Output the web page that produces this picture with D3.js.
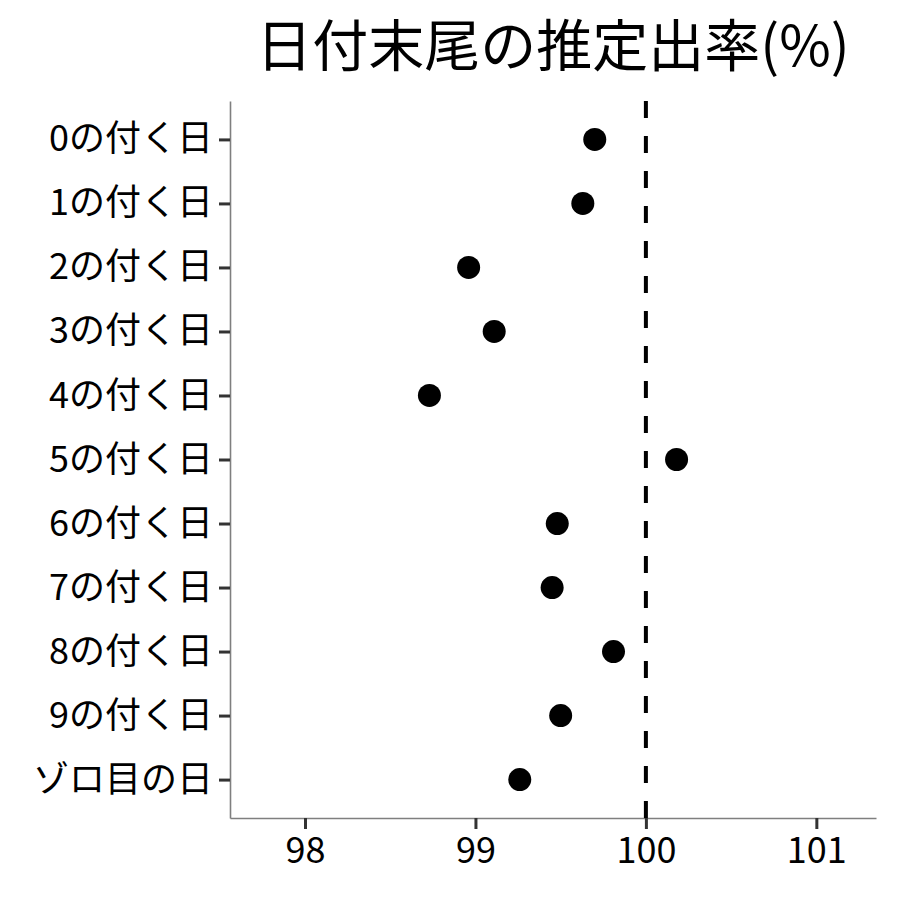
<!DOCTYPE html>
<html>
<head>
<meta charset="utf-8">
<script src="https://cdn.jsdelivr.net/npm/d3@7"></script>
<style>
  body { margin: 0; background: #fff; }
  text { font-family: "Noto Sans CJK JP", "Noto Sans", sans-serif; }
</style>
</head>
<body>
<div id="chart"></div>
<script>
// data
var categories = ["0の付く日", "1の付く日", "2の付く日", "3の付く日", "4の付く日",
                  "5の付く日", "6の付く日", "7の付く日", "8の付く日", "9の付く日", "ゾロ目の日"];
var rates = [99.70, 99.63, 98.96, 99.11, 98.73, 100.18, 99.48, 99.45, 99.81, 99.50, 99.26];
var xTicks = [98, 99, 100, 101];
var refValue = 100;
var titleText = "日付末尾の推定出率(%)";

var WIDTH = 900,
    HEIGHT = 900,
    MARGINS = {top: 101, bottom: 82, left: 230, right: 24};

var svg = d3.select("#chart").append("svg")
  .attr("width", WIDTH)
  .attr("height", HEIGHT);

// scales
var xScale = d3.scaleLinear()
  .domain([97.56, 101.35])
  .range([MARGINS.left, WIDTH - MARGINS.right]);

var yScale = d3.scalePoint()
  .domain(categories)
  .range([MARGINS.top, HEIGHT - MARGINS.bottom])
  .padding(0.6);

// title
svg.append("text")
  .attr("x", 553)
  .attr("y", 66)
  .attr("text-anchor", "middle")
  .style("font-size", "56px")
  .style("fill", "#000")
  .text(titleText);

// x axis
var xAxis = svg.append("g")
  .attr("transform", "translate(0," + (HEIGHT - MARGINS.bottom) + ")")
  .call(d3.axisBottom(xScale).tickValues(xTicks).tickFormat(d3.format("d"))
    .tickSize(11).tickPadding(8).tickSizeOuter(0));
xAxis.select(".domain").attr("stroke", "#7f7f7f").attr("stroke-width", 1.6);
xAxis.selectAll(".tick line").attr("stroke", "#333").attr("stroke-width", 3);
xAxis.selectAll(".tick text").style("font-size", "36px").attr("fill", "#000");

// y axis
var yAxis = svg.append("g")
  .attr("transform", "translate(" + MARGINS.left + ",0)")
  .call(d3.axisLeft(yScale).tickSize(11).tickPadding(6).tickSizeOuter(0));
yAxis.select(".domain").attr("stroke", "#7f7f7f").attr("stroke-width", 1.6);
yAxis.selectAll(".tick line").attr("stroke", "#333").attr("stroke-width", 3);
yAxis.selectAll(".tick text").style("font-size", "36px").attr("fill", "#000");

// reference line at 100
svg.append("line")
  .attr("x1", xScale(refValue))
  .attr("x2", xScale(refValue))
  .attr("y1", MARGINS.top)
  .attr("y2", HEIGHT - MARGINS.bottom)
  .attr("stroke", "#000")
  .attr("stroke-width", 4)
  .attr("stroke-dasharray", "17,18");

// points
svg.selectAll(".dot")
  .data(categories)
  .enter().append("circle")
  .attr("class", "dot")
  .attr("cx", function(d, i) { return xScale(rates[i]); })
  .attr("cy", function(d) { return yScale(d); })
  .attr("r", 11.5)
  .attr("fill", "#000");
</script>
</body>
</html>
